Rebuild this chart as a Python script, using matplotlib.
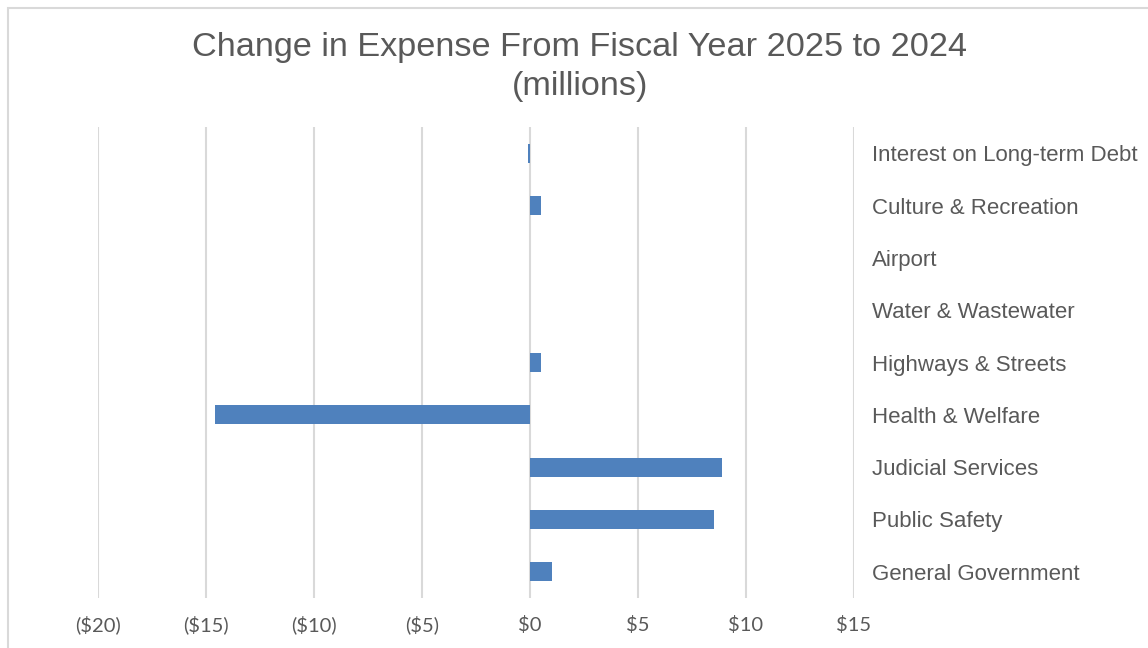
import matplotlib
matplotlib.use('Agg')

from matplotlib import pyplot as plt
from matplotlib.patches import Rectangle
from matplotlib.ticker import FuncFormatter

# Dados (milhões), de baixo para cima
categorias = ['General Government', 'Public Safety', 'Judicial Services',
              'Health & Welfare', 'Highways & Streets', 'Water & Wastewater',
              'Airport', 'Culture & Recreation', 'Interest on Long-term Debt']
variacao = [1.0, 8.5, 8.9, -14.6, 0.5, 0.0, 0.0, 0.5, -0.1]
ticks_x = [-20, -15, -10, -5, 0, 5, 10, 15]

cinza = '#595959'
azul = '#4f81bd'

fig = plt.figure(figsize=(11.48, 6.48), dpi=100)

# Borda da área do gráfico
fig.patches.append(Rectangle((8 / 1148, -0.1), 1.2, (648 - 7.5) / 648 + 0.1,
                             transform=fig.transFigure, fill=False,
                             edgecolor='#d9d9d9', linewidth=1.5, zorder=0))

ax = fig.add_axes([98 / 1148, 50 / 648, 756 / 1148, 471 / 648])

y = range(len(categorias))
ax.barh(y, variacao, height=0.36, color=azul, zorder=3)

ax.set_xlim(-20, 15)
ax.set_ylim(-0.5, len(categorias) - 0.5)
ax.set_xticks(ticks_x)
ax.xaxis.set_major_formatter(FuncFormatter(
    lambda v, pos: f'(${abs(v):.0f})' if v < 0 else f'${v:.0f}'))
ax.tick_params(axis='x', length=0, pad=24, labelsize=14.5, labelcolor=cinza)
for lbl in ax.get_xticklabels():
    lbl.set_family('Lato')
    lbl.set_verticalalignment('baseline')

ax.set_yticks(list(y))
ax.set_yticklabels(categorias, family='Liberation Sans', fontsize=16, color=cinza)
ax.yaxis.tick_right()
ax.tick_params(axis='y', length=0, pad=13)

ax.grid(axis='x', color='#d9d9d9', linewidth=1.5, zorder=0)
for s in ax.spines.values():
    s.set_visible(False)

fig.text(580 / 1148, 1 - 67 / 648,
         'Change in Expense From Fiscal Year 2025 to 2024\n(millions)',
         ha='center', va='center', family='Liberation Sans', fontsize=24.7,
         color=cinza, linespacing=1.3)

fig.savefig('out.png', dpi=100)
